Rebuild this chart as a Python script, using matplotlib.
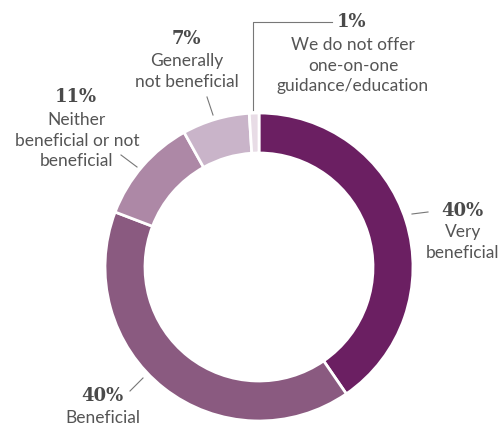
import matplotlib
matplotlib.use("Agg")
import matplotlib.pyplot as plt

# survey answers, clockwise from 12 o'clock
labels = ["Very\nbeneficial", "Beneficial", "Neither\nbeneficial or not\nbeneficial",
          "Generally\nnot beneficial", "We do not offer\none-on-one\nguidance/education"]
shares = [40, 40, 11, 7, 1]
colors = ["#6b1f62", "#8a5a80", "#ad88a6", "#c9b4c9", "#e8dce6"]

W, H = 502, 423
fig = plt.figure(figsize=(W / 100, H / 100), dpi=100)
ax = fig.add_axes([0, 0, 1, 1])

cx, cy, r = 259, H - 267, 154
ax.pie(shares, colors=colors, startangle=90, counterclock=False,
       center=(cx, cy), radius=r, frame=True,
       wedgeprops=dict(width=40, edgecolor="white", linewidth=2))
ax.set_xlim(0, W)
ax.set_ylim(0, H)
ax.set_aspect("equal")
ax.axis("off")

pct_font = dict(family="DejaVu Serif", weight="bold", size=13, color="#4a4a4a")
lbl_font = dict(family="Lato", size=12.5, color="#555555", linespacing=1.36)

def y(p):
    return H - p

# (percent x, percent y, label top y) in pixel space, then leader line
spots = [
    (462, 211, 224, [(412, 214), (428, 212)]),
    (102, 396, 410, [(130, 391), (143, 378)]),
    (76, 97, 112, [(121, 155), (137, 167)]),
    (186, 39, 53, [(207, 97), (213, 115)]),
    (352, 22, 37, [(332, 22), (253, 22), (253, 110)]),
]

for val, lab, (px, py, ly, lead) in zip(shares, labels, spots):
    ax.text(px, y(py), f"{val}%", ha="center", va="center", **pct_font)
    ax.text(px + 1, y(ly), lab, ha="center", va="top", **lbl_font)
    xs = [p[0] for p in lead]
    ys = [y(p[1]) for p in lead]
    ax.plot(xs, ys, color="#777777", lw=0.8)

fig.savefig("out.png", dpi=100)
